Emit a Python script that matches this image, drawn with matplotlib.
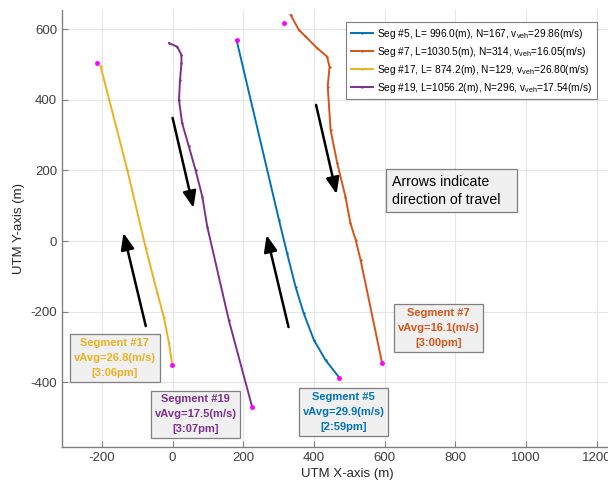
import numpy as np
import matplotlib
matplotlib.use("Agg")
import matplotlib.pyplot as plt

plt.rcParams['font.family'] = ['Liberation Sans', 'DejaVu Sans']
plt.rcParams['mathtext.fontset'] = 'custom'
plt.rcParams['mathtext.rm'] = 'Liberation Sans'
plt.rcParams['mathtext.it'] = 'Liberation Sans'
plt.rcParams['axes.unicode_minus'] = False

# segment tracks (UTM, m)
seg5_x = [181, 301, 324, 348, 371, 400, 433, 470]
seg5_y = [570, 60, -35, -130, -205, -281, -338, -385]

seg7_x = [334, 357, 376, 409, 437, 444, 439, 447, 466, 489, 503, 518, 532, 593]
seg7_y = [641, 599, 580, 547, 523, 494, 438, 315, 220, 126, 51, 3, -54, -347]

seg17_x = [-204, -128, -76, -43, -25, -10, -1]
seg17_y = [496, 201, -20, -148, -215, -290, -352]

seg19_x = [-10, 13, 25, 25, 21, 18, 27, 46, 65, 84, 98, 159, 225]
seg19_y = [561, 551, 528, 504, 457, 400, 334, 268, 201, 126, 41, -224, -470]

# start / end markers
mark_x = [-213, -1, 225, 181, 470, 314, 593]
mark_y = [504, -352, -472, 570, -387, 618, -347]

labels = ['Seg #5, L= 996.0(m), N=167, v$_{\\mathrm{veh}}$=29.86(m/s)',
          'Seg #7, L=1030.5(m), N=314, v$_{\\mathrm{veh}}$=16.05(m/s)',
          'Seg #17, L= 874.2(m), N=129, v$_{\\mathrm{veh}}$=26.80(m/s)',
          'Seg #19, L=1056.2(m), N=296, v$_{\\mathrm{veh}}$=17.54(m/s)']

colors = ['#0072BD', '#D95319', '#EDB120', '#7E2F8E']

# (text, x, y, color)
boxes = [('Segment #17\nvAvg=26.8(m/s)\n[3:06pm]', -164, -332, '#EDB120'),
         ('Segment #19\nvAvg=17.5(m/s)\n[3:07pm]', 65, -491, '#7E2F8E'),
         ('Segment #5\nvAvg=29.9(m/s)\n[2:59pm]', 484, -485, '#0072BD'),
         ('Segment #7\nvAvg=16.1(m/s)\n[3:00pm]', 752, -247, '#D95319')]

# arrows: (tail x, tail y, head x, head y)
arrows = [(-76, -241, -139, 23),
          (0, 349, 59, 94),
          (328, -244, 266, 17),
          (406, 386, 464, 133)]

fig = plt.figure(figsize=(6.08, 4.86), dpi=100)
ax = fig.add_axes([62/608, 39/486, 570/608, 437/486])

tracks = [(seg5_x, seg5_y), (seg7_x, seg7_y), (seg17_x, seg17_y), (seg19_x, seg19_y)]
for (tx, ty), c, lab in zip(tracks, colors, labels):
    ax.plot(tx, ty, '-', color=c, lw=1.4, marker='.', ms=1.5, label=lab)

ax.plot(mark_x, mark_y, '.', color='#FF00FF', ms=5, zorder=5)

for t, x, y, c in boxes:
    ax.text(x, y, t, color=c, fontsize=8, fontweight='bold', ha='center', va='center',
            linespacing=1.6,
            bbox=dict(boxstyle='square,pad=0.35', fc='#F0F0F0', ec='#7f7f7f', lw=0.9))

ax.text(620, 143, 'Arrows indicate\ndirection of travel   ', fontsize=10.2, ha='left', va='center',
        linespacing=1.35,
        bbox=dict(boxstyle='square,pad=0.4', fc='#F0F0F0', ec='#7f7f7f', lw=0.9))

for x0, y0, x1, y1 in arrows:
    ax.annotate('', xy=(x1, y1), xytext=(x0, y0),
                arrowprops=dict(arrowstyle='-|>,head_length=1.0,head_width=0.4',
                                color='black', lw=1.8, shrinkA=0, shrinkB=0))

ax.set_xlim(-313, 1300)
ax.set_ylim(-584, 655)
ax.set_xticks(np.arange(-200, 1201, 200))
ax.set_yticks(np.arange(-400, 601, 200))
ax.grid(True, color='#e6e6e6', lw=0.8)
ax.set_axisbelow(True)
for s in ['top', 'right']:
    ax.spines[s].set_visible(False)
for s in ['left', 'bottom']:
    ax.spines[s].set_color('#808080')
    ax.spines[s].set_linewidth(1.0)
ax.tick_params(direction='in', length=4, labelsize=9.5, colors='#808080', labelcolor='#404040')
ax.set_xlabel('UTM X-axis (m)', fontsize=9.5, color='#262626', labelpad=3)
ax.set_ylabel('UTM Y-axis (m)', fontsize=9.5, color='#262626', labelpad=4)

leg = ax.legend(loc='upper right', bbox_to_anchor=(535/570, 425/437), borderaxespad=0,
                fontsize=7.3, fancybox=False, edgecolor='#7f7f7f', framealpha=1,
                handlelength=2.2, labelspacing=0.4, borderpad=0.45, handletextpad=0.4)
leg.get_frame().set_linewidth(0.8)

fig.savefig('out.png', dpi=100)
